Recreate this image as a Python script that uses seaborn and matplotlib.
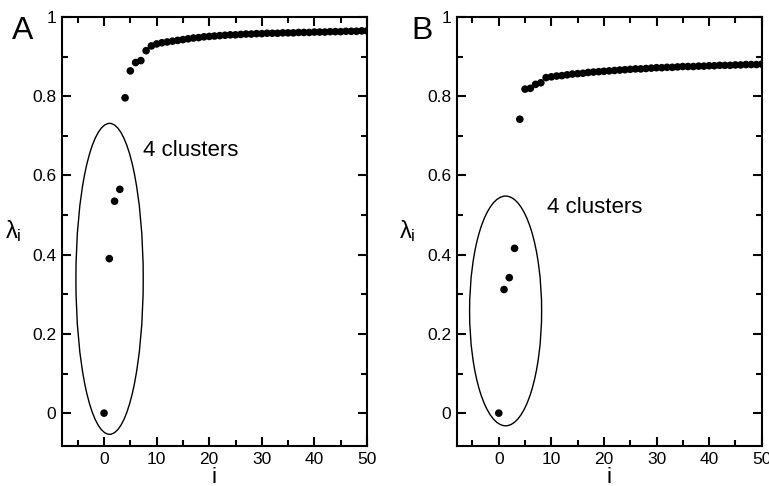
import numpy as np
import pandas as pd
import seaborn as sns
import matplotlib
matplotlib.use("Agg")
import matplotlib.pyplot as plt
from matplotlib.patches import Ellipse

# eigenvalue index and values
idx = list(range(51))
lam_a = [0.0, 0.39, 0.535, 0.565, 0.796, 0.864, 0.885, 0.890, 0.915, 0.927,
         0.932, 0.935, 0.937, 0.939, 0.941, 0.943, 0.945, 0.947, 0.948, 0.950,
         0.951, 0.952, 0.953, 0.954, 0.955, 0.955, 0.956, 0.957, 0.957, 0.958,
         0.958, 0.959, 0.959, 0.959, 0.960, 0.960, 0.960, 0.961, 0.961, 0.961,
         0.962, 0.962, 0.962, 0.963, 0.963, 0.963, 0.964, 0.964, 0.964, 0.965,
         0.965]
lam_b = [0.0, 0.312, 0.342, 0.416, 0.742, 0.818, 0.820, 0.830, 0.834, 0.847,
         0.849, 0.851, 0.852, 0.854, 0.856, 0.857, 0.858, 0.860, 0.861, 0.862,
         0.863, 0.864, 0.865, 0.866, 0.867, 0.868, 0.869, 0.869, 0.870, 0.871,
         0.872, 0.872, 0.873, 0.873, 0.874, 0.875, 0.875, 0.875, 0.876, 0.876,
         0.877, 0.877, 0.878, 0.878, 0.878, 0.879, 0.879, 0.880, 0.880, 0.880,
         0.881]
panels = ["A", "B"]
note = "4 clusters"

sns.set_style("ticks", {"axes.edgecolor": "black", "text.color": "black",
                        "axes.labelcolor": "black", "xtick.color": "black",
                        "ytick.color": "black"})
plt.rcParams["font.family"] = ["Liberation Sans", "DejaVu Sans"]
plt.rcParams["mathtext.fontset"] = "custom"
plt.rcParams["mathtext.rm"] = "Liberation Sans"
plt.rcParams["mathtext.it"] = "Liberation Sans"

fig = plt.figure(figsize=(7.69, 4.86), dpi=100)
ax_a = fig.add_axes([0.0806, 0.0823, 0.3966, 0.8827])
ax_b = fig.add_axes([0.5939, 0.0823, 0.3966, 0.8827])

# ellipse (center x, center y, width, height) and note position per panel
ell = {"A": (1.05, 0.339, 12.8, 0.785), "B": (1.3, 0.258, 13.7, 0.58)}
note_pos = {"A": (7.4, 0.664), "B": (9.2, 0.518)}

for ax, name, vals in [(ax_a, "A", lam_a), (ax_b, "B", lam_b)]:
    df = pd.DataFrame({"i": idx, "lam": vals})
    sns.scatterplot(data=df, x="i", y="lam", ax=ax, color="black", s=30,
                    edgecolor="none", zorder=3)
    cx, cy, w, h = ell[name]
    ax.add_patch(Ellipse((cx, cy), w, h, fill=False, edgecolor="black", lw=1.0))
    tx, ty = note_pos[name]
    ax.text(tx, ty, note, fontsize=16, va="center", ha="left", color="black")

    ax.set_xlim(-8, 50)
    ax.set_ylim(-0.083, 1.0)
    ax.set_xticks([0, 10, 20, 30, 40, 50])
    ax.set_xticks([-5, 5, 15, 25, 35, 45], minor=True)
    ax.set_yticks([0, 0.2, 0.4, 0.6, 0.8, 1.0])
    ax.set_yticklabels(["0", "0.2", "0.4", "0.6", "0.8", "1"])
    ax.set_yticks([0.1, 0.3, 0.5, 0.7, 0.9], minor=True)
    ax.tick_params(which="both", direction="in", top=True, right=True,
                   width=1.5, labelsize=12.5, pad=4, colors="black")
    ax.tick_params(which="major", length=6.5)
    ax.tick_params(which="minor", length=4.3)
    for sp in ax.spines.values():
        sp.set_linewidth(1.5)
        sp.set_color("black")
    ax.set_xlabel("i", fontsize=16, labelpad=0, color="black")
    ax.set_ylabel(r"$\lambda_\mathrm{i}$", fontsize=17, rotation=0,
                  labelpad=14, va="center", color="black")

fig.text(0.029, 0.936, "A", fontsize=23, ha="center", va="center", color="black")
fig.text(0.549, 0.936, "B", fontsize=23, ha="center", va="center", color="black")

fig.savefig("out.png", dpi=100)
